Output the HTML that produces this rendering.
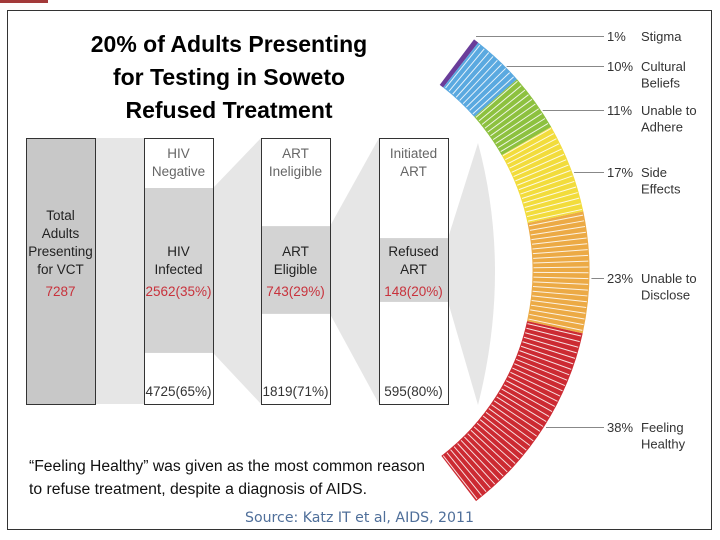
<!DOCTYPE html>
<html><head><meta charset="utf-8"><style>
html,body{margin:0;padding:0;background:#fff;}
svg{display:block;font-family:"Liberation Sans",Arial,sans-serif;}
</style></head><body>
<svg id="chart" width="720" height="540" viewBox="0 0 720 540" xmlns="http://www.w3.org/2000/svg">
<rect x="0" y="0" width="48" height="3" fill="#a33a3a"/>
<rect x="7.5" y="10.5" width="704" height="519" fill="#fff" stroke="#333" stroke-width="1"/>
<g font-weight="bold" font-size="23" text-anchor="middle" fill="#000" font-family="'Liberation Sans',sans-serif">
<text x="229" y="52">20% of Adults Presenting</text>
<text x="229" y="85">for Testing in Soweto</text>
<text x="229" y="118">Refused Treatment</text>
</g>
<g id="funnel"></g>
<g id="arc"></g>
<g id="labels"></g>
<g font-size="15.5" fill="#111">
<text x="29" y="471" textLength="396" lengthAdjust="spacingAndGlyphs">“Feeling Healthy” was given as the most common reason</text>
<text x="29" y="494" textLength="338" lengthAdjust="spacingAndGlyphs">to refuse treatment, despite a diagnosis of AIDS.</text>
</g>
<text x="245" y="522" font-size="14.5" fill="#4f6f9a" textLength="229" lengthAdjust="spacingAndGlyphs" font-family="'DejaVu Sans','Liberation Sans',sans-serif">Source: Katz IT et al, AIDS, 2011</text>
</svg>
<script>
// ---- funnel data ----
const stageTotals = [7287, 2562, 743, 148];
const stageSubsetPct = [100, 35, 29, 20];
const stageRestLabels = ["", "4725(65%)", "1819(71%)", "595(80%)"];
const stageTopLabels = [[], ["HIV","Negative"], ["ART","Ineligible"], ["Initiated","ART"]];
const stageMidLabels = [["Total","Adults","Presenting","for VCT"], ["HIV","Infected"], ["ART","Eligible"], ["Refused","ART"]];
// ---- arc data ----
const reasons = ["Stigma", "Cultural Beliefs", "Unable to Adhere", "Side Effects", "Unable to Disclose", "Feeling Healthy"];
const reasonPct = [1, 10, 11, 17, 23, 38];
const reasonColors = ["#6a3d9a", "#5aa9e0", "#8dc13f", "#f2dc3c", "#ecaa45", "#cc2a32"];

const NS = "http://www.w3.org/2000/svg";
function mk(tag, attrs, parent){const e=document.createElementNS(NS,tag);for(const k in attrs)e.setAttribute(k,attrs[k]);parent.appendChild(e);return e;}

const colX = [26, 144, 261, 379], colW = 69, colTop = 138, colBot = 404;
const bandScale = [1, 0.62/35, 0.33/29, 0.24/20];
const bandStart = [null, 188, null, null];
const fg = document.getElementById('funnel');
const bands = stageTotals.map((v,i)=>{
  if(i===0) return {y0:colTop,y1:colBot};
  const h=(colBot-colTop)*bandScale[i]*stageSubsetPct[i];
  if(bandStart[i]!==null) return {y0:bandStart[i],y1:bandStart[i]+h};
  return {y0:270-h/2,y1:270+h/2};
});
for(let i=0;i<3;i++){
  const b=bands[i], x0=colX[i]+colW, x1=colX[i+1];
  const p=mk('polygon',{points:`${x0},${b.y0} ${x1},${colTop} ${x1},${colBot} ${x0},${b.y1}`,fill:'#e6e6e6'},fg);
  
  
}
{ const b=bands[3], x0=colX[3]+colW;
  const p=mk('path',{d:`M${x0},${b.y0} L478,143 Q512,270 478,405 L${x0},${b.y1} Z`,fill:'#e6e6e6'},fg);
  
  
}
stageTotals.forEach((v,i)=>{
  const x=colX[i], cx=x+colW/2;
  const g=mk('g',{},fg);
  
  
  mk('rect',{x:x+0.5,y:colTop+0.5,width:colW,height:colBot-colTop,fill:i===0?'#c8c8c8':'#fff'},g);
  if(i>0){mk('rect',{x:x+0.5,y:bands[i].y0,width:colW,height:bands[i].y1-bands[i].y0,fill:'#d3d3d3'},g);}
  mk('rect',{x:x+0.5,y:colTop+0.5,width:colW,height:colBot-colTop,fill:'none',stroke:'#333','stroke-width':1},g);
  stageTopLabels[i].forEach((t,j)=>{const e=mk('text',{x:cx,y:158+j*18,'text-anchor':'middle','font-size':13.5,fill:'#666'},g);e.textContent=t;});
  const mids=stageMidLabels[i], startY = i===0?220:256;
  mids.forEach((t,j)=>{const e=mk('text',{x:cx,y:startY+j*18,'text-anchor':'middle','font-size':13.5,fill:'#222'},g);e.textContent=t;});
  const num = i===0? String(v) : `${v}(${stageSubsetPct[i]}%)`;
  const n=mk('text',{x:cx,y:296,'text-anchor':'middle','font-size':13.5,fill:'#c8323c'},g);n.textContent=num;
  
  
  if(stageRestLabels[i]){const r=mk('text',{x:cx,y:396,'text-anchor':'middle','font-size':13.5,fill:'#333'},g);r.textContent=stageRestLabels[i];}
});

const CX=299.5, CY=271, RIN=233, ROUT=290, A0=-53, A1=52.5;
const total = reasonPct.reduce((a,b)=>a+b,0);
function ang(cum){return (A0 + (A1-A0)*cum/total)*Math.PI/180;}
function pt(r,a){return [CX+r*Math.cos(a), CY+r*Math.sin(a)];}
const ag=document.getElementById('arc');
let cum=0;
const mids=[];
reasonPct.forEach((p,i)=>{
  const a0=ang(cum), a1=ang(cum+p); cum+=p;
  mids.push({a0,a1});
  const [x1,y1]=pt(ROUT,a0),[x2,y2]=pt(ROUT,a1),[x3,y3]=pt(RIN,a1),[x4,y4]=pt(RIN,a0);
  const s=mk('path',{d:`M${x1},${y1} A${ROUT},${ROUT} 0 0 1 ${x2},${y2} L${x3},${y3} A${RIN},${RIN} 0 0 0 ${x4},${y4} Z`,fill:reasonColors[i]},ag);
  
  
});
const st=mk('g',{stroke:'#fff','stroke-width':1,opacity:0.85},ag);


for(let d=A0+1.6; d<A1-0.3; d+=1.15){
  const a=d*Math.PI/180;
  const [x1,y1]=pt(RIN+1,a),[x2,y2]=pt(ROUT-1,a);
  mk('line',{x1,y1,x2,y2},st);
}

const lg=document.getElementById('labels');
const labelY=[36,66,110,172,278,427];
const labelWords=[["Stigma"],["Cultural","Beliefs"],["Unable to","Adhere"],["Side","Effects"],["Unable to","Disclose"],["Feeling","Healthy"]];
reasons.forEach((name,i)=>{
  const y=labelY[i];
  const sinv=(y-CY)/ROUT;
  const a = Math.asin(Math.max(-1,Math.min(1,sinv)));
  let xs = CX+ROUT*Math.cos(a)+2;
  if(i===0){xs=pt(ROUT,mids[0].a0)[0]+2;}
  const l=mk('line',{x1:xs,y1:y+0.5,x2:604,y2:y+0.5,stroke:'#888','stroke-width':1},lg);
  
  
  const pctT=mk('text',{x:607,y:y+5,'font-size':13,fill:'#333'},lg);
  pctT.textContent=reasonPct[i]+'%';
  
  
  labelWords[i].forEach((w,j)=>{const t=mk('text',{x:641,y:y+5+j*16.5,'font-size':13,fill:'#333'},lg);t.textContent=w;
    
    });
});
</script>
</body></html>
